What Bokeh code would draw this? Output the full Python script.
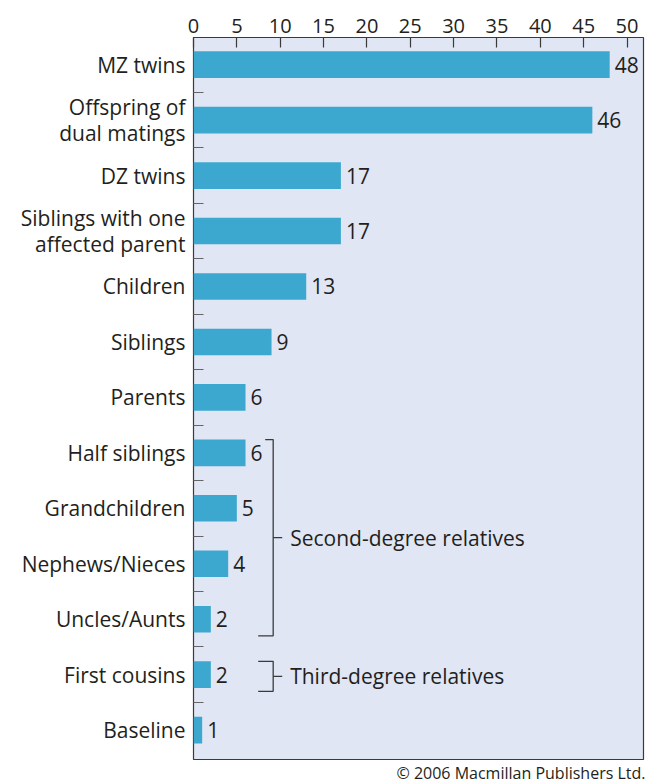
from bokeh.plotting import figure
from bokeh.models import Range1d, FixedTicker, ColumnDataSource, Title
from bokeh.core.properties import value
from bokeh.embed import file_html
from bokeh.resources import INLINE

# ---- data ----
categories = ["MZ twins", "Offspring of\ndual matings", "DZ twins",
              "Siblings with one\naffected parent", "Children", "Siblings",
              "Parents", "Half siblings", "Grandchildren", "Nephews/Nieces",
              "Uncles/Aunts", "First cousins", "Baseline"]
risk = [48, 46, 17, 17, 13, 9, 6, 6, 5, 4, 2, 2, 1]
x_ticks = [0, 5, 10, 15, 20, 25, 30, 35, 40, 45, 50]
group_labels = ["Second-degree relatives", "Third-degree relatives"]
group_first = ["Half siblings", "First cousins"]
group_last = ["Uncles/Aunts", "First cousins"]
credit = "\u00a9 2006 Macmillan Publishers Ltd."

FONT = "Open Sans"
TXT = "#231f20"
BAR = "#3ca8cf"
BG = "#e0e6f4"
EDGE = "#3a3a3a"

idx = list(range(len(categories)))
src = ColumnDataSource(dict(y=idx, v=risk, lab=[str(r) for r in risk]))

p = figure(width=649, height=783,
           x_range=Range1d(0, 51.9), y_range=Range1d(12.53, -0.49),
           x_axis_location="above", output_backend="svg", toolbar_location=None,
           min_border_left=193, min_border_right=6, min_border_top=37,
           min_border_bottom=21)
p.background_fill_color = BG
p.border_fill_color = "white"
p.outline_line_color = EDGE
p.outline_line_width = 1.2
p.grid.visible = False

p.hbar(y="y", right="v", left=0, height=0.48, source=src,
       fill_color=BAR, line_color=None)
p.text(x="v", y="y", text="lab", source=src, x_offset=5,
       text_baseline="middle", text_align="left",
       text_font=value(FONT), text_font_size="21px", text_color=TXT)

# brackets
name_idx = {c.replace("\n", " "): i for i, c in enumerate(categories)}
xs, ys = [], []
lx, ly = [], []
for lab, f, l in zip(group_labels, group_first, group_last):
    top = name_idx[f] - 0.24
    bot = name_idx[l] + 0.3
    mid = (top + bot) / 2
    top_left = 8.27 if name_idx[l] > name_idx[f] else 7.46
    xs.append([top_left, 9.19, 9.19, 7.46])
    ys.append([top, top, bot, bot])
    xs.append([9.19, 10.23])
    ys.append([mid, mid])
    lx.append(11.15)
    ly.append(mid)
p.multi_line(xs=xs, ys=ys, line_color=EDGE, line_width=1.3)
p.text(x=lx, y=ly, text=group_labels, text_baseline="middle", text_align="left",
       text_font=value(FONT), text_font_size="21px", text_color=TXT)

# x axis (top)
xa = p.xaxis[0]
xa.ticker = FixedTicker(ticks=x_ticks, minor_ticks=[])
xa.axis_line_color = None
xa.major_tick_in = 10
xa.major_tick_out = 0
xa.major_tick_line_color = EDGE
xa.major_tick_line_width = 1.2
xa.minor_tick_line_color = None
xa.major_label_text_font = FONT
xa.major_label_text_font_size = "20px"
xa.major_label_text_color = TXT
xa.major_label_standoff = 5

# y axis (left)
ya = p.yaxis[0]
ya.ticker = FixedTicker(ticks=idx, minor_ticks=[i + 0.5 for i in idx[:-1]])
ya.major_label_overrides = {i: c for i, c in enumerate(categories)}
ya.axis_line_color = None
ya.major_tick_in = 0
ya.major_tick_out = 0
ya.minor_tick_in = 10
ya.minor_tick_out = 0
ya.minor_tick_line_color = "#666666"
ya.minor_tick_line_width = 1.2
ya.major_label_text_font = FONT
ya.major_label_text_font_size = "21px"
ya.major_label_text_line_height = 0.92
ya.major_label_text_color = TXT
ya.major_label_standoff = 8
ya.major_label_text_align = "right"

p.add_layout(Title(text=credit, align="right", text_font=FONT,
                   text_font_size="16px", text_font_style="normal",
                   text_color=TXT, standoff=0, offset=-2), "below")

open("out.html", "w").write(file_html(p, INLINE))
